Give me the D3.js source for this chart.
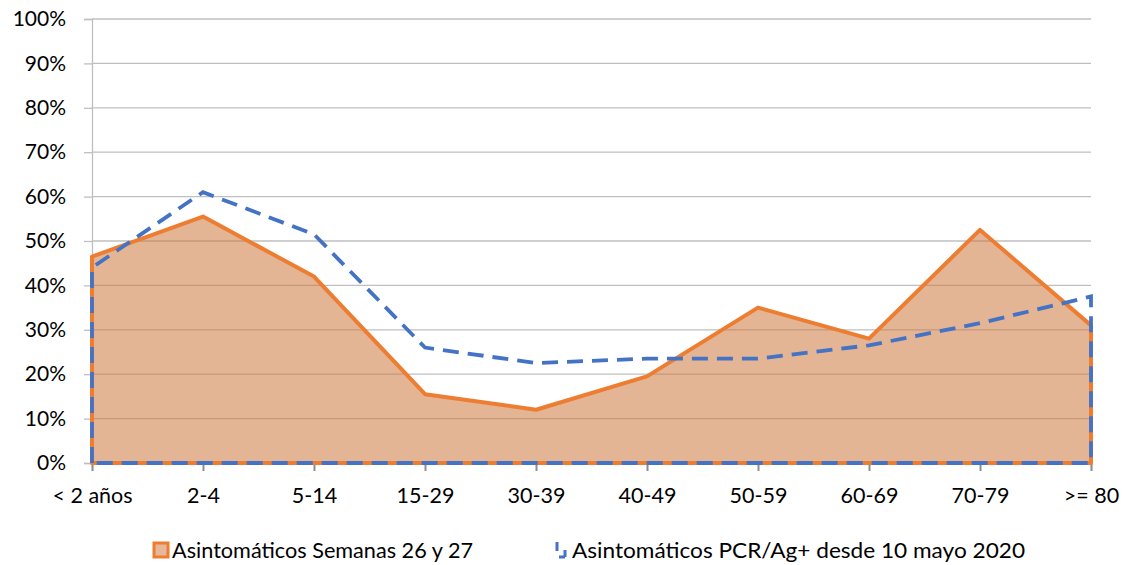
<!DOCTYPE html>
<html><head><meta charset="utf-8">
<script src="https://cdn.jsdelivr.net/npm/d3@7/dist/d3.min.js"></script>
<style>body{margin:0;background:#fff}svg{display:block}text{font-family:Lato,"Open Sans",sans-serif;fill:#000}</style>
</head><body><svg id="c" width="1124" height="565"></svg>
<script>
const categories = ["< 2 años","2-4","5-14","15-29","30-39","40-49","50-59","60-69","70-79",">= 80"];
const semanas = [0.465,0.555,0.42,0.155,0.12,0.195,0.35,0.28,0.525,0.31];
const pcr = [0.44,0.61,0.515,0.26,0.225,0.235,0.235,0.265,0.315,0.375];
const yTicks = [0,0.1,0.2,0.3,0.4,0.5,0.6,0.7,0.8,0.9,1];
const legendLabels = ["Asintomáticos Semanas 26 y 27","Asintomáticos PCR/Ag+ desde 10 mayo 2020"];

const svg = d3.select("#c");
const L=92,R=1091,T=19,B=463;
const x = d3.scalePoint().domain(categories).range([L,R]);
const y = d3.scaleLinear().domain([0,1]).range([B,T]);

// gridlines
svg.append("g").selectAll("line").data(yTicks.filter(d=>d>0)).join("line")
 .attr("x1",L).attr("x2",R).attr("y1",d=>y(d)).attr("y2",d=>y(d))
 .attr("stroke","#bfbfbf").attr("stroke-width",1.3);

// y axis
const ya = svg.append("g").attr("transform",`translate(${L},0)`)
 .call(d3.axisLeft(y).tickValues(yTicks).tickFormat(d3.format(".0%")).tickSize(8).tickPadding(18));
ya.select(".domain").attr("stroke","#bfbfbf").attr("stroke-width",1.3);
ya.selectAll(".tick line").attr("stroke","#bfbfbf").attr("stroke-width",1.3);
ya.selectAll("text").attr("font-size",21).attr("font-family","Lato,'Open Sans',sans-serif").attr("fill","#000");

// x axis
const xa = svg.append("g").attr("transform",`translate(0,${B})`)
 .call(d3.axisBottom(x).tickSize(8).tickPadding(17));
xa.select(".domain").attr("stroke","#bfbfbf").attr("stroke-width",1.3);
xa.selectAll(".tick line").attr("stroke","#8c8c8c").attr("stroke-width",2);
xa.selectAll("text").attr("font-size",21.5).attr("font-family","Lato,'Open Sans',sans-serif").attr("fill","#000");

// orange area
const area = d3.area().x((d,i)=>x(categories[i])).y0(y(0)).y1(d=>y(d));
const outline = vals => {
  const pts = vals.map((v,i)=>[x(categories[i]),y(v)]);
  return "M"+[[x(categories[0]),y(0)],...pts,[x(categories[categories.length-1]),y(0)]].map(p=>p.join(",")).join("L")+"Z";
};
svg.append("path").attr("d",area(semanas)).attr("fill","rgb(205,120,60)").attr("fill-opacity",0.55);
svg.append("path").attr("d",outline(semanas)).attr("fill","none").attr("stroke","#ed7d31").attr("stroke-width",4).attr("stroke-linejoin","round");
// blue dashed area outline
svg.append("path").attr("d",outline(pcr)).attr("fill","none").attr("stroke","#4472c4").attr("stroke-width",3.8)
 .attr("stroke-dasharray","16,9");

// legend
const lg = svg.append("g");
lg.append("rect").attr("x",154).attr("y",543).attr("width",14).attr("height",14)
 .attr("fill","#e7b79a").attr("stroke","#ed7d31").attr("stroke-width",3);
lg.append("text").attr("x",172).attr("y",558).attr("font-size",21.5).attr("textLength",301).attr("lengthAdjust","spacingAndGlyphs").text(legendLabels[0]);
lg.append("path").attr("d","M557,542L557,551M559,557L565,557M565,557L565,550").attr("stroke","#4472c4").attr("stroke-width",3).attr("fill","none");
lg.append("text").attr("x",572).attr("y",558).attr("font-size",21.5).attr("textLength",453).attr("lengthAdjust","spacingAndGlyphs").text(legendLabels[1]);
</script></body></html>
